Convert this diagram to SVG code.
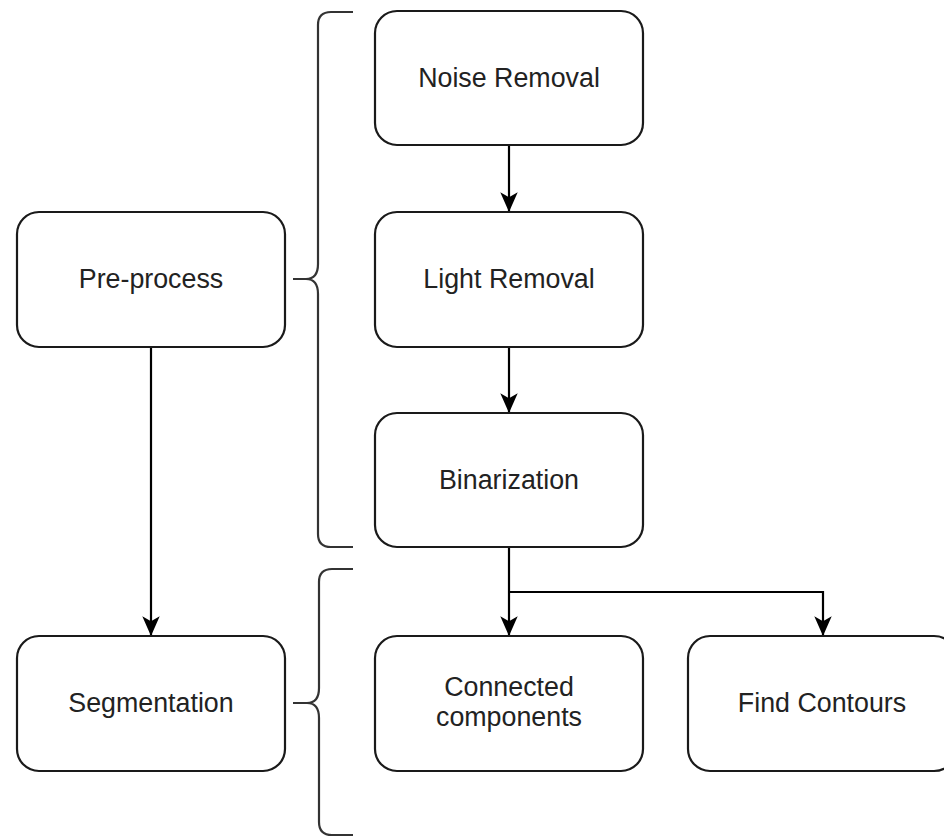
<svg xmlns="http://www.w3.org/2000/svg" width="944" height="837" viewBox="0 0 944 837">
<defs>
<style>
.box{fill:#fff;stroke:#1a1a1a;stroke-width:2.2}
.lbl{font-family:"Liberation Sans",Arial,Helvetica,sans-serif;font-size:26.8px;fill:#222;text-anchor:middle}
.edge{fill:none;stroke:#000;stroke-width:2.2}
.brace{fill:none;stroke:#333;stroke-width:2.2}
</style>
<marker id="arr" viewBox="0 0 10 10" refX="9.5" refY="5" markerWidth="9" markerHeight="9" markerUnits="strokeWidth" orient="auto">
<path d="M0,0.6 L10,5 L0,9.4 L2.5,5 Z" fill="#000"/>
</marker>
</defs>
<rect width="944" height="837" fill="#fff"/>
<g id="braces">
<path class="brace" d="M353,12 H331 Q318,12 318,25 V264 Q318,279 306,279 Q318,279 318,294 V534 Q318,547 331,547 H353 M293,279 H306"/>
<path class="brace" d="M353,569 H332 Q319,569 319,582 V688 Q319,703 307,703 Q319,703 319,718 V822 Q319,835 332,835 H353 M293,703 H307"/>
</g>
<g id="connectors">
<path class="edge" d="M509,145 V211" marker-end="url(#arr)"/>
<path class="edge" d="M509,347 V412" marker-end="url(#arr)"/>
<path class="edge" d="M151,347 V635" marker-end="url(#arr)"/>
<path class="edge" d="M509,547 V635" marker-end="url(#arr)"/>
<path class="edge" d="M509,592 H823 V635" marker-end="url(#arr)"/>
</g>
<g id="noise">
<rect class="box" x="375" y="11" width="268" height="134" rx="22"/>
<text class="lbl" x="509" y="87">Noise Removal</text>
</g>
<g id="light">
<rect class="box" x="375" y="212" width="268" height="135" rx="22"/>
<text class="lbl" x="509" y="288">Light Removal</text>
</g>
<g id="binarization">
<rect class="box" x="375" y="413" width="268" height="134" rx="22"/>
<text class="lbl" x="509" y="489">Binarization</text>
</g>
<g id="preprocess">
<rect class="box" x="17" y="212" width="268" height="135" rx="22"/>
<text class="lbl" x="151" y="288">Pre-process</text>
</g>
<g id="segmentation">
<rect class="box" x="17" y="636" width="268" height="135" rx="22"/>
<text class="lbl" x="151" y="712">Segmentation</text>
</g>
<g id="connected">
<rect class="box" x="375" y="636" width="268" height="135" rx="22"/>
<text class="lbl" x="509" y="696">Connected</text>
<text class="lbl" x="509" y="726">components</text>
</g>
<g id="contours">
<rect class="box" x="688" y="636" width="268" height="135" rx="22"/>
<text class="lbl" x="822" y="712">Find Contours</text>
</g>
</svg>
